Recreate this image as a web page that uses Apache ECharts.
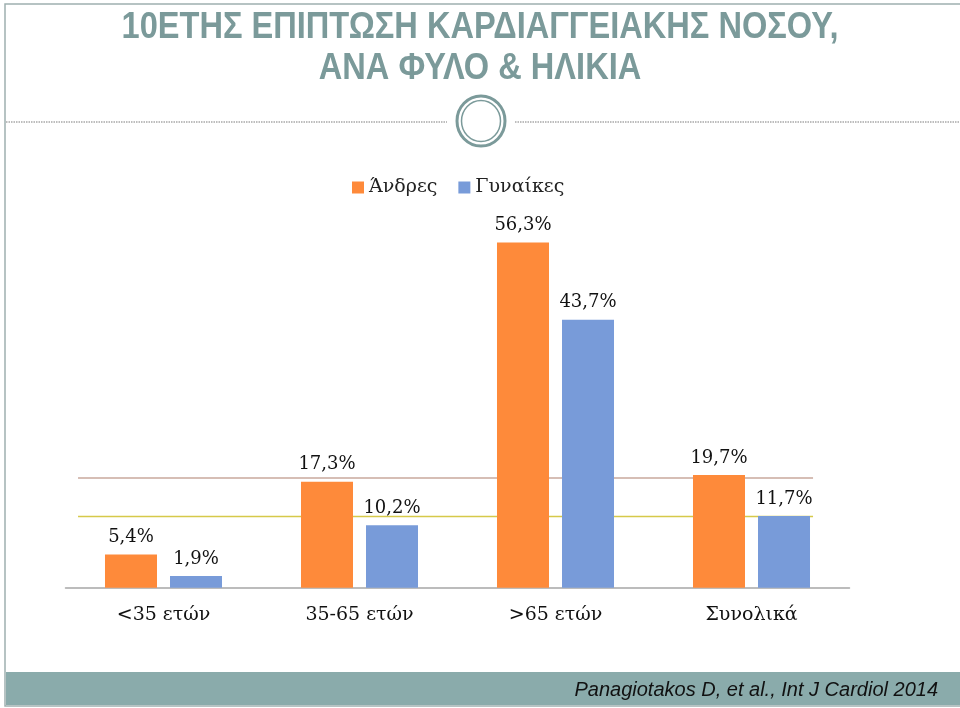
<!DOCTYPE html>
<html>
<head>
<meta charset="utf-8">
<script src="https://cdn.jsdelivr.net/npm/echarts@6/dist/echarts.min.js"></script>
<style>html,body{margin:0;padding:0;background:#fff}#c{width:960px;height:708px}</style>
</head>
<body>
<div id="c"></div>
<script>
const categories = ['<35 ετών', '35-65 ετών', '>65 ετών', 'Συνολικά'];
const seriesNames = ['Άνδρες', 'Γυναίκες'];
const menValues = [5.4, 17.3, 56.3, 18.4];
const womenValues = [1.9, 10.2, 43.7, 11.7];
const menLabels = ['5,4%', '17,3%', '56,3%', '19,7%'];
const womenLabels = ['1,9%', '10,2%', '43,7%', '11,7%'];
const refLineValues = [17.9, 11.6];
const refLineExtent = [0.064, 3.814];
const titleLines = ['10ΕΤΗΣ ΕΠΙΠΤΩΣΗ ΚΑΡΔΙΑΓΓΕΙΑΚΗΣ ΝΟΣΟΥ,', 'ΑΝΑ ΦΥΛΟ & ΗΛΙΚΙΑ'];
const sourceText = 'Panagiotakos D, et al., Int J Cardiol 2014';

const serif = '"DejaVu Serif", "Liberation Serif", serif';
const labelStyle = (labels) => ({
  show: true, position: 'top', distance: 8,
  fontFamily: serif, fontSize: 18, color: '#111',
  formatter: p => labels[p.dataIndex]
});
const titleFont = 'bold 36px "Liberation Sans", Arial, sans-serif';

const chart = echarts.init(document.getElementById('c'));
chart.setOption({
  animation: false,
  backgroundColor: '#fff',
  legend: {
    data: seriesNames,
    left: 352, top: 178, padding: 0,
    itemWidth: 12, itemHeight: 12, itemGap: 21,
    icon: 'rect',
    textStyle: { fontFamily: serif, fontSize: 19, color: '#222' }
  },
  grid: { left: 65.5, right: 110.5, top: 219.9, bottom: 120.3, containLabel: false },
  xAxis: [{
    type: 'category', data: categories,
    axisTick: { show: false },
    axisLine: { lineStyle: { color: '#a6a6a6', width: 1.5 } },
    axisLabel: { fontFamily: serif, fontSize: 19, color: '#111', margin: 18 }
  }, {
    type: 'value', min: 0, max: 4, show: false
  }],
  yAxis: { type: 'value', min: 0, max: 60, show: false, splitLine: { show: false } },
  series: [
    {
      name: seriesNames[0], type: 'bar', data: menValues,
      barCategoryGap: '40.3%', barGap: '25%', z: 3,
      itemStyle: { color: '#fe8a3a' },
      label: labelStyle(menLabels)
    },
    {
      name: seriesNames[1], type: 'bar', data: womenValues, z: 3,
      itemStyle: { color: '#789bd9' },
      label: labelStyle(womenLabels)
    },
    {
      name: 'ref1', type: 'line', xAxisIndex: 1, silent: true, z: 1,
      symbol: 'none',
      lineStyle: { color: '#c8a89c', width: 1.5 },
      data: refLineExtent.map(x => [x, refLineValues[0]])
    },
    {
      name: 'ref2', type: 'line', xAxisIndex: 1, silent: true, z: 1,
      symbol: 'none',
      lineStyle: { color: '#d6c94a', width: 1.5 },
      data: refLineExtent.map(x => [x, refLineValues[1]])
    }
  ],
  graphic: [
    { type: 'rect', shape: { x: 5, y: 4, width: 960, height: 702 },
      style: { fill: 'none', stroke: '#9fb0b0', lineWidth: 1.5 }, silent: true },
    { type: 'text', x: 480, y: 28, scaleX: 0.905,
      style: { text: titleLines[0], align: 'center', verticalAlign: 'middle',
        font: titleFont, fill: '#7b9a9a' }, silent: true },
    { type: 'text', x: 480, y: 69, scaleX: 0.905,
      style: { text: titleLines[1], align: 'center', verticalAlign: 'middle',
        font: titleFont, fill: '#7b9a9a' }, silent: true },
    { type: 'line', shape: { x1: 6, y1: 122, x2: 447, y2: 122 },
      style: { stroke: '#a8a8a8', lineWidth: 1.5, lineDash: [1.5, 1] }, silent: true },
    { type: 'line', shape: { x1: 515, y1: 122, x2: 960, y2: 122 },
      style: { stroke: '#a8a8a8', lineWidth: 1.5, lineDash: [1.5, 1] }, silent: true },
    { type: 'ellipse', shape: { cx: 481, cy: 121, rx: 24, ry: 25 },
      style: { fill: '#fff', stroke: '#7b9a9a', lineWidth: 3 }, silent: true },
    { type: 'ellipse', shape: { cx: 481, cy: 121, rx: 19.5, ry: 20.5 },
      style: { fill: 'none', stroke: '#7b9a9a', lineWidth: 1.5 }, silent: true },
    { type: 'rect', shape: { x: 6, y: 672, width: 954, height: 33 },
      style: { fill: '#8aabab' }, silent: true },
    { type: 'text', x: 938, y: 690,
      style: { text: sourceText, align: 'right', verticalAlign: 'middle',
        font: 'italic 20px "Liberation Sans", Arial, sans-serif', fill: '#111' }, silent: true }
  ]
});
</script>
</body>
</html>
